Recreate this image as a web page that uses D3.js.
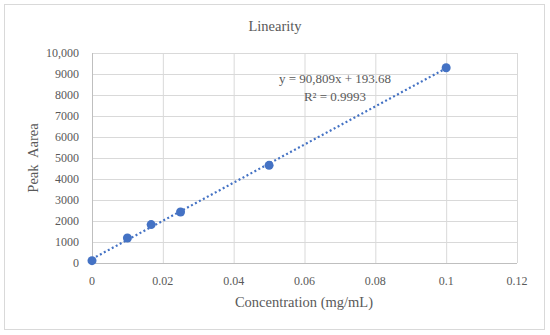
<!DOCTYPE html>
<html>
<head>
<meta charset="utf-8">
<script src="https://cdn.jsdelivr.net/npm/d3@7"></script>
<style>
  body { margin: 0; background: #fff; }
  text { font-family: "Liberation Serif", "DejaVu Serif", serif; fill: #595959; }
</style>
</head>
<body>
<div id="chart"></div>
<script>
// data
const concentrations = [0, 0.01, 0.0167, 0.025, 0.05, 0.1];
const peakAreas = [110, 1190, 1830, 2430, 4650, 9300];
const xTicks = [0, 0.02, 0.04, 0.06, 0.08, 0.1, 0.12];
const yTicks = [0, 1000, 2000, 3000, 4000, 5000, 6000, 7000, 8000, 9000, 10000];
const slope = 90809, intercept = 193.68;
const trendRange = [0, 0.1];

const W = 550, H = 335;
const m = { left: 92, right: 33, top: 53, bottom: 72 };

const svg = d3.select("#chart").append("svg").attr("width", W).attr("height", H);

// outer frame
svg.append("rect").attr("x", 4.5).attr("y", 4.5).attr("width", 540).attr("height", 325)
  .attr("fill", "#fff").attr("stroke", "#d9d9d9");

const x = d3.scaleLinear().domain([0, 0.12]).range([m.left, W - m.right]);
const y = d3.scaleLinear().domain([0, 10000]).range([H - m.bottom, m.top]);

// gridlines
svg.append("g").selectAll("line").data(yTicks).join("line")
  .attr("x1", x(0)).attr("x2", x(0.12))
  .attr("y1", d => y(d) + 0.5).attr("y2", d => y(d) + 0.5)
  .attr("stroke", "#d9d9d9");
svg.append("g").selectAll("line").data(xTicks).join("line")
  .attr("y1", y(0)).attr("y2", y(10000))
  .attr("x1", d => x(d) + 0.5).attr("x2", d => x(d) + 0.5)
  .attr("stroke", "#d9d9d9");

// axis lines
svg.append("line").attr("x1", x(0)).attr("x2", x(0.12))
  .attr("y1", y(0) + 0.5).attr("y2", y(0) + 0.5).attr("stroke", "#bfbfbf");
svg.append("line").attr("x1", x(0) + 0.5).attr("x2", x(0) + 0.5)
  .attr("y1", y(0)).attr("y2", y(10000)).attr("stroke", "#bfbfbf");

// tick labels
svg.append("g").selectAll("text").data(yTicks).join("text")
  .attr("x", 79).attr("y", d => y(d)).attr("dy", "0.35em")
  .attr("text-anchor", "end").attr("font-size", 12)
  .text(d => d === 10000 ? "10,000" : d);
svg.append("g").selectAll("text").data(xTicks).join("text")
  .attr("x", d => x(d)).attr("y", 285)
  .attr("text-anchor", "middle").attr("font-size", 12)
  .text(d => d);

// titles
svg.append("text").attr("x", 275).attr("y", 31).attr("text-anchor", "middle")
  .attr("font-size", 14.5).text("Linearity");
svg.append("text").attr("x", 304).attr("y", 307).attr("text-anchor", "middle")
  .attr("font-size", 14.5).text("Concentration (mg/mL)");
svg.append("text").attr("transform", "translate(38,158) rotate(-90)")
  .attr("text-anchor", "middle").attr("font-size", 14.5).attr("xml:space", "preserve")
  .text("Peak  Aarea");

// trendline
svg.append("line")
  .attr("x1", x(trendRange[0])).attr("y1", y(slope * trendRange[0] + intercept))
  .attr("x2", x(trendRange[1])).attr("y2", y(slope * trendRange[1] + intercept))
  .attr("stroke", "#4472c4").attr("stroke-width", 2.2)
  .attr("stroke-dasharray", "2,2.5");

// points
svg.append("g").selectAll("circle").data(concentrations).join("circle")
  .attr("cx", d => x(d)).attr("cy", (d, i) => y(peakAreas[i]))
  .attr("r", 4.5).attr("fill", "#4472c4");

// equation
svg.append("text").attr("x", 335).attr("y", 83).attr("text-anchor", "middle")
  .attr("font-size", 13).text("y = 90,809x + 193.68");
svg.append("text").attr("x", 335).attr("y", 101).attr("text-anchor", "middle")
  .attr("font-size", 13).text("R² = 0.9993");
</script>
</body>
</html>
